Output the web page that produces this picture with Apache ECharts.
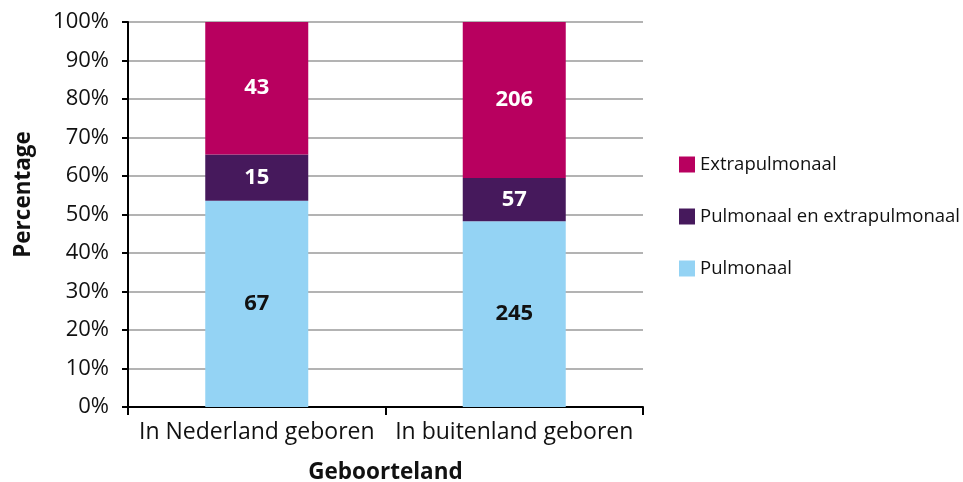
<!DOCTYPE html>
<html><head><meta charset="utf-8">
<script src="https://cdn.jsdelivr.net/npm/echarts@6/dist/echarts.min.js"></script>
<style>html,body{margin:0;padding:0;background:#fff}#c{width:963px;height:482px}</style>
</head><body><div id="c"></div>
<script>
const categories = ['In Nederland geboren', 'In buitenland geboren'];
const pulmonaal = [67, 245];
const pulmEnExtra = [15, 57];
const extrapulmonaal = [43, 206];
const yTicks = ['0%','10%','20%','30%','40%','50%','60%','70%','80%','90%','100%'];

const totals = categories.map((_, i) => pulmonaal[i] + pulmEnExtra[i] + extrapulmonaal[i]);
const pct = arr => arr.map((v, i) => ({value: v / totals[i] * 100, count: v}));

const FONT = 'Open Sans';
const chart = echarts.init(document.getElementById('c'), null, {renderer: 'canvas'});
const mk = (name, arr, color, labelColor) => ({
  name, type: 'bar', stack: 'total', barWidth: '40%', data: pct(arr),
  itemStyle: {color},
  label: {show: true, position: 'inside', formatter: p => p.data.count,
    color: labelColor, fontFamily: FONT, fontWeight: 'bold', fontSize: 22}
});
chart.setOption({
  animation: false,
  grid: {left: 128, right: 320, top: 22, bottom: 75, containLabel: false, outerBoundsMode: 'none'},
  legend: {
    orient: 'vertical', left: 674, top: 150, itemWidth: 16, itemHeight: 16, itemGap: 33,
    icon: 'rect',
    data: ['Extrapulmonaal', 'Pulmonaal en extrapulmonaal', 'Pulmonaal'],
    textStyle: {fontFamily: FONT, fontSize: 18.5, color: '#111'}
  },
  xAxis: {
    type: 'category', data: categories,
    name: 'Geboorteland', nameLocation: 'middle', nameGap: 54,
    nameTextStyle: {fontFamily: FONT, fontWeight: 'bold', fontSize: 22.5, color: '#111'},
    axisLine: {lineStyle: {color: '#000', width: 2}},
    axisTick: {show: true, length: 8, lineStyle: {color: '#000', width: 2}},
    axisLabel: {fontFamily: FONT, fontSize: 23, color: '#111', margin: 14, interval: 0}
  },
  yAxis: {
    type: 'value', min: 0, max: 100, interval: 10,
    name: 'Percentage', nameLocation: 'middle', nameGap: 93, nameRotate: 90,
    nameTextStyle: {fontFamily: FONT, fontWeight: 'bold', fontSize: 22.5, color: '#111', padding: [0,0,0,40]},
    axisLine: {show: true, lineStyle: {color: '#000', width: 2}},
    axisTick: {show: true, length: 6, lineStyle: {color: '#000', width: 2}},
    splitLine: {lineStyle: {color: '#b3b3b3', width: 2}},
    axisLabel: {fontFamily: FONT, fontSize: 22, color: '#111', margin: 19,
      formatter: v => yTicks[Math.round(v / 10)]}
  },
  series: [
    mk('Pulmonaal', pulmonaal, '#94d3f4', '#111'),
    mk('Pulmonaal en extrapulmonaal', pulmEnExtra, '#46195c', '#fff'),
    mk('Extrapulmonaal', extrapulmonaal, '#b8005f', '#fff')
  ]
});
</script></body></html>
